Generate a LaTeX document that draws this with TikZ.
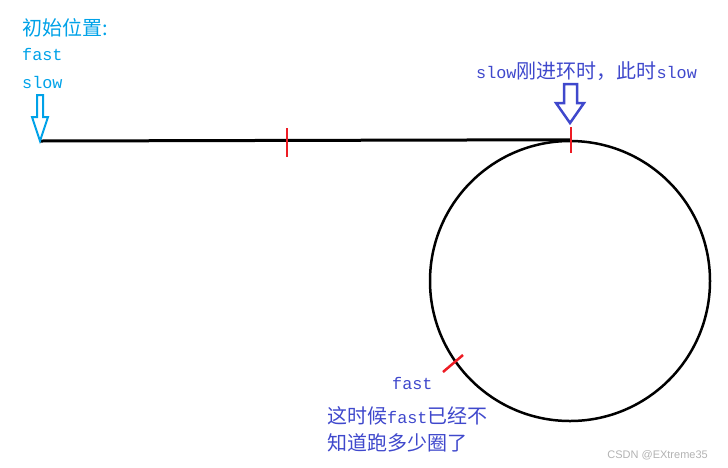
\documentclass[tikz,border=0pt]{standalone}
\usepackage{fontspec}
\setmainfont{Noto Sans CJK SC}
\newfontfamily\lat{Liberation Mono}[Scale=0.84]
\newfontfamily\wmfont{Liberation Sans}
\definecolor{paintcyan}{RGB}{0,162,232}
\definecolor{paintblue}{RGB}{63,72,204}
\definecolor{paintred}{RGB}{237,28,36}

\begin{document}
\begin{tikzpicture}[x=1pt,y=-1pt,
    txt/.style={anchor=base west, inner sep=0pt, font=\fontsize{20}{23}\selectfont},
    tick/.style={paintred, line width=2.5pt}]
    \useasboundingbox (0,0) rectangle (728,467);

    % start labels
    \node[txt, paintcyan] (title) at (22,35) {初始位置:};
    \node[txt, paintcyan] (fastA) at (22,60) {\lat fast};
    \node[txt, paintcyan] (slowA) at (22,88) {\lat slow};

    % track and loop
    \coordinate (start) at (40,141);
    \node[circle, draw, line width=2.5pt, minimum size=280pt, inner sep=0pt] (loop) at (570,281) {};
    \draw[line width=3pt] (start) -- (loop.north);

    % ticks
    \draw[tick] (287,128) -- (287,157);
    \draw[tick] (571,127) -- (571,153);
    \draw[tick] (443,372) -- (463,355);

    % arrows
    \draw[paintcyan, line width=2pt] (37,95) -- (43,95) -- (43,117) -- (48,117) -- (start) -- (32,117) -- (37,117) -- cycle;
    \draw[paintblue, line width=2.5pt] (564,84) -- (577,84) -- (577,103) -- (584,103) -- (570,123) -- (556,103) -- (564,103) -- cycle;

    % blue labels
    \node[txt, paintblue] (slowB) at (476,78) {{\lat slow}刚进环时，此时{\lat slow}};
    \node[txt, paintblue] (fastB) at (392,389) {\lat fast};
    \node[txt, paintblue] (noteA) at (327,423) {这时候{\lat fast}已经不};
    \node[txt, paintblue] (noteB) at (327,450) {知道跑多少圈了};

    \node[anchor=base east, inner sep=0pt, text=gray!60, font=\wmfont\fontsize{11}{13}\selectfont] (mark) at (708,458) {CSDN @EXtreme35};
\end{tikzpicture}
\end{document}
